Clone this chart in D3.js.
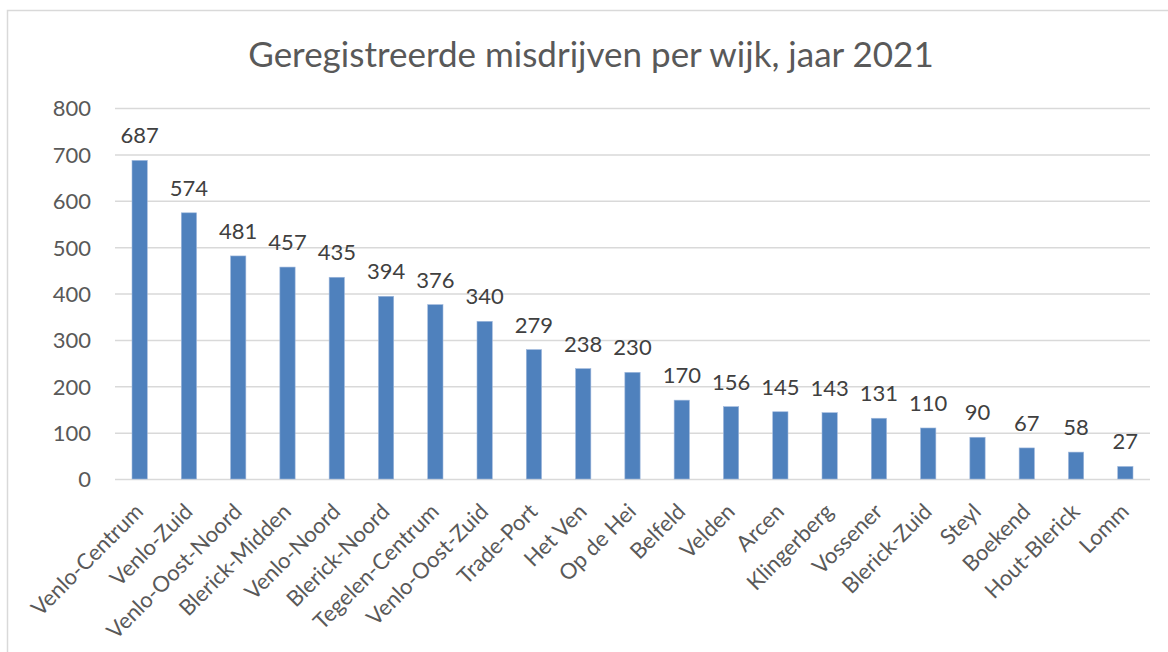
<!DOCTYPE html>
<html>
<head>
<meta charset="utf-8">
<script src="https://cdn.jsdelivr.net/npm/d3@7"></script>
<style>
  html, body { margin: 0; padding: 0; background: #fff; }
  svg { display: block; }
</style>
</head>
<body>
<svg id="chart" width="1168" height="652"></svg>
<script>
const title = "Geregistreerde misdrijven per wijk, jaar 2021";
const categories = ["Venlo-Centrum","Venlo-Zuid","Venlo-Oost-Noord","Blerick-Midden","Venlo-Noord","Blerick-Noord","Tegelen-Centrum","Venlo-Oost-Zuid","Trade-Port","Het Ven","Op de Hei","Belfeld","Velden","Arcen","Klingerberg","Vossener","Blerick-Zuid","Steyl","Boekend","Hout-Blerick","Lomm"];
const values = [687,574,481,457,435,394,376,340,279,238,230,170,156,145,143,131,110,90,67,58,27];
const yTicks = [0,100,200,300,400,500,600,700,800];

const W = 1168, H = 652;
const margin = {left: 115, right: 18, top: 108, bottom: 173};
const font = "Lato, 'Open Sans', sans-serif";

const svg = d3.select("#chart");

// outer chart border
svg.append("rect")
  .attr("x", 7.5).attr("y", 10.5)
  .attr("width", 1180).attr("height", 700)
  .attr("fill", "#fff").attr("stroke", "#d9d9d9").attr("stroke-width", 1.5);

const x = d3.scaleBand().domain(categories).range([margin.left, W - margin.right]).paddingInner(0.69).paddingOuter(0.345);
const y = d3.scaleLinear().domain([0, 800]).range([H - margin.bottom, margin.top]);

// title
svg.append("text")
  .attr("x", 591).attr("y", 67)
  .attr("text-anchor", "middle")
  .attr("font-family", font).attr("font-size", 35)
  .attr("fill", "#595959")
  .text(title);

// gridlines
const yAxis = d3.axisLeft(y).tickValues(yTicks).tickSize(-(W - margin.left - margin.right)).tickPadding(24);
const gy = svg.append("g").attr("transform", `translate(${margin.left},0)`).call(yAxis);
gy.select(".domain").remove();
gy.selectAll(".tick line").attr("stroke", "#d9d9d9").attr("stroke-width", 1.5);
gy.selectAll(".tick text").attr("font-family", font).attr("font-size", 22).attr("fill", "#595959").attr("dy", "0.36em");

// bars
svg.append("g").selectAll("rect").data(values).join("rect")
  .attr("x", (d, i) => x(categories[i]))
  .attr("width", x.bandwidth())
  .attr("y", d => y(d))
  .attr("height", d => y(0) - y(d))
  .attr("fill", "#4f81bd")
  .attr("stroke", "#9fb8dc").attr("stroke-width", 0.6);

// data labels
svg.append("g").selectAll("text").data(values).join("text")
  .attr("x", (d, i) => x(categories[i]) + x.bandwidth() / 2)
  .attr("y", d => y(d) - 17)
  .attr("text-anchor", "middle")
  .attr("font-family", font).attr("font-size", 22)
  .attr("fill", "#404040")
  .text(d => d);

// x axis labels
const xAxis = d3.axisBottom(x).tickSize(0).tickPadding(0);
const gx = svg.append("g").attr("transform", `translate(0,${y(0)})`).call(xAxis);
gx.select(".domain").remove();
gx.selectAll(".tick text")
  .attr("font-family", font).attr("font-size", 22).attr("fill", "#595959")
  .attr("text-anchor", "end")
  .attr("dy", 0).attr("y", 0)
  .attr("transform", "translate(5,34) rotate(-45)");
</script>
</body>
</html>
